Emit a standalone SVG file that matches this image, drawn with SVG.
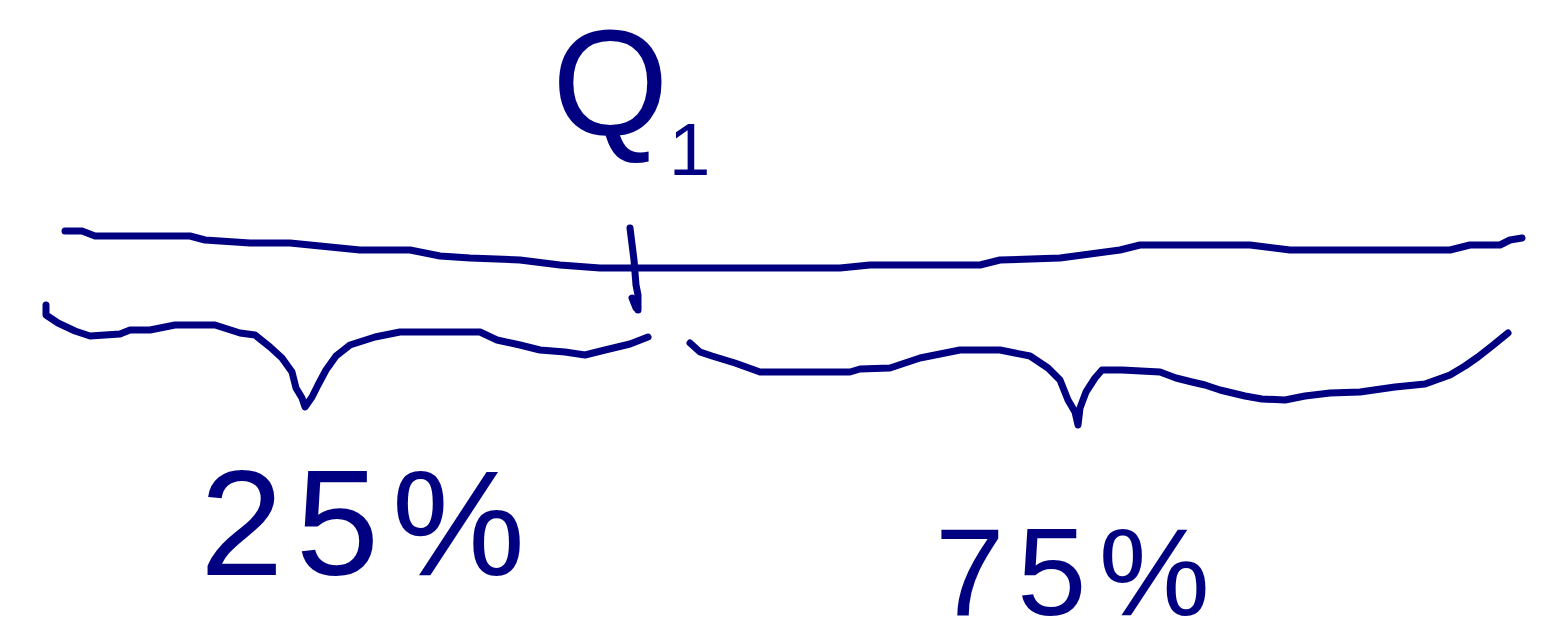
<svg xmlns="http://www.w3.org/2000/svg" width="1563" height="644" viewBox="0 0 1563 644">
<style>
.ink{fill:none;stroke:#000080;stroke-width:7;stroke-linecap:round;stroke-linejoin:round}
.hand{fill:#000080;font-family:"Liberation Sans",Arial,sans-serif}
</style>
<rect width="1563" height="644" fill="#ffffff"/>
<g id="title">
<text class="hand" x="552" y="135" font-size="150">Q<tspan font-size="75" dy="40">1</tspan></text>
</g>
<g id="axis">
<path class="ink" d="M65,231 L82,231 L95,236 L190,236 L205,240 L250,243 L290,243 L320,246 L360,250 L410,250 L440,256 L470,258 L520,260 L560,265 L600,268 L840,268 L870,265 L980,265 L1000,260 L1060,258 L1090,254 L1120,250 L1140,245 L1250,245 L1290,250 L1450,250 L1470,245 L1500,245 L1510,240 L1522,238"/>
<path class="ink" d="M630,228 L634,260 L636,285 L638,295 L638,310 M632,298 L636,308"/>
</g>
<g id="brace-left">
<path class="ink" d="M46,305 L46,315 L58,323 L75,331 L90,336 L120,334 L130,330 L150,330 L175,325 L215,325 L240,333 L255,335 L270,347 L282,358 L292,372 L296,388 L302,398 L305,407 L312,397 L318,385 L326,370 L336,356 L350,345 L375,337 L400,332 L480,332 L497,340 L520,345 L540,350 L565,352 L585,355 L605,350 L630,344 L648,337"/>
</g>
<g id="brace-right">
<path class="ink" d="M690,343 L700,352 L712,356 L735,363 L760,372 L850,372 L860,369 L890,368 L920,358 L960,350 L1000,350 L1030,356 L1048,368 L1060,380 L1068,400 L1075,412 L1078,425 L1080,408 L1086,392 L1095,378 L1102,370 L1122,370 L1160,372 L1176,378 L1192,382 L1205,385 L1220,390 L1245,396 L1262,399 L1285,400 L1305,396 L1330,393 L1360,392 L1395,387 L1425,384 L1450,375 L1465,366 L1478,357 L1492,346 L1508,333"/>
</g>
<g id="label-25">
<text class="hand" x="200" y="575" font-size="150" textLength="325">25%</text>
</g>
<g id="label-75">
<text class="hand" x="935" y="615" font-size="125" textLength="275">75%</text>
</g>
</svg>
